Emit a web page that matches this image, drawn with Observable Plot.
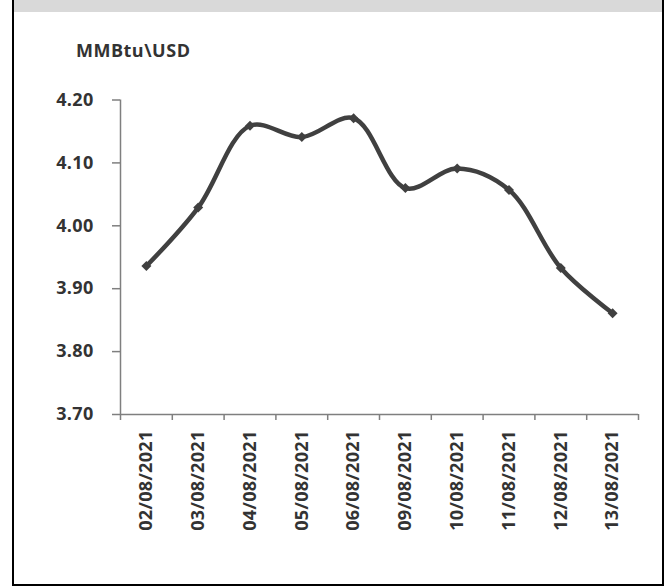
<!DOCTYPE html>
<html>
<head>
<meta charset="utf-8">
<script src="https://cdn.jsdelivr.net/npm/d3@7"></script>
<script src="https://cdn.jsdelivr.net/npm/@observablehq/plot@0.6"></script>
<style>
  html, body { margin: 0; padding: 0; background: #fff; }
  #wrap { position: relative; width: 672px; height: 588px; font-family: "Open Sans", sans-serif; }
  #box { position: absolute; left: 12px; top: 0; width: 652px; height: 586px; box-sizing: border-box;
         border-left: 2px solid #000; border-right: 2px solid #000; border-bottom: 2px solid #000; }
  #band { position: absolute; left: 0; top: 0; width: 100%; height: 12px; background: #d9d9d9; }
  #unit { position: absolute; left: 76px; top: 41px; font-size: 18px; line-height: 18px; font-weight: 700;
          letter-spacing: 0.5px; color: #333; white-space: nowrap; }
  #chart { position: absolute; left: 14px; top: 12px; }
  #chart svg text { letter-spacing: 0.3px; }
</style>
</head>
<body>
<div id="wrap">
  <div id="box"><div id="band"></div></div>
  <div id="unit">MMBtu\USD</div>
  <div id="chart"></div>
</div>
<script>
const dates = ["02/08/2021", "03/08/2021", "04/08/2021", "05/08/2021", "06/08/2021",
               "09/08/2021", "10/08/2021", "11/08/2021", "12/08/2021", "13/08/2021"];
const prices = [3.936, 4.029, 4.159, 4.141, 4.171, 4.060, 4.091, 4.057, 3.933, 3.861];
const yTicks = [3.70, 3.80, 3.90, 4.00, 4.10, 4.20];

const data = dates.map((d, i) => ({pos: i + 0.5, date: d, price: prices[i]}));
const bandEdges = d3.range(dates.length + 1);

const chart = Plot.plot({
  width: 648,
  height: 572,
  marginLeft: 106,
  marginRight: 24,
  marginTop: 87.5,
  marginBottom: 170,
  style: {fontFamily: "Open Sans, sans-serif", fontWeight: 700, color: "#333", background: "transparent"},
  x: {domain: [0, dates.length], axis: null, label: null},
  y: {domain: [3.70, 4.20], axis: null, label: null},
  marks: [
    Plot.axisY({ticks: yTicks, tickFormat: d => d.toFixed(2), tickSize: 8, tickPadding: 19, label: null,
                stroke: "#7f7f7f", strokeWidth: 1.5, fontSize: 18, fill: "#333"}),
    Plot.axisX({ticks: bandEdges, tickFormat: () => "", tickSize: 6, label: null,
                stroke: "#7f7f7f", strokeWidth: 1.5}),
    Plot.axisX({ticks: data.map(d => d.pos), tickFormat: d => dates[Math.floor(d)], tickSize: 0, label: null,
                tickPadding: 16, tickRotate: -90, fontSize: 18, fill: "#333"}),
    Plot.ruleX([0], {stroke: "#7f7f7f", strokeWidth: 1.5}),
    Plot.ruleY([3.70], {stroke: "#7f7f7f", strokeWidth: 1.5}),
    Plot.line(data, {x: "pos", y: "price", curve: "catmull-rom", stroke: "#404040", strokeWidth: 4.5}),
    Plot.dot(data, {x: "pos", y: "price", symbol: "diamond2", r: 4.5, fill: "#404040", stroke: "none"})
  ]
});
document.getElementById("chart").appendChild(chart);
</script>
</body>
</html>
